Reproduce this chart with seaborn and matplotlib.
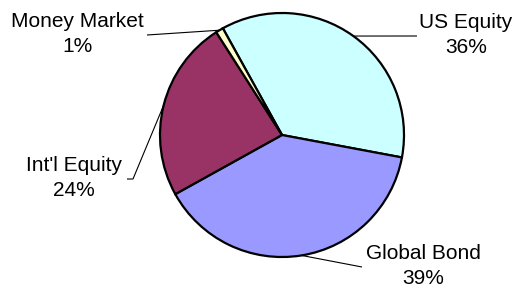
import matplotlib
matplotlib.use("Agg")
import matplotlib.pyplot as plt
import seaborn as sns
import numpy as np

categories = ["US Equity", "Global Bond", "Int'l Equity", "Money Market"]
values = [36, 39, 24, 1]
colors = ["#CCFFFF", "#9999FF", "#993366", "#FFFFCC"]

sns.set_theme(style="white")
plt.rcParams["font.family"] = ["Liberation Sans", "DejaVu Sans"]

W, H = 516, 288
fig = plt.figure(figsize=(W / 100, H / 100), dpi=100)
ax = fig.add_axes([0, 0, 1, 1])
ax.set_xlim(0, W)
ax.set_ylim(0, H)
ax.set_aspect("equal")
ax.axis("off")

cx, cy, R = 282, H - 135, 122
wedges, _ = ax.pie(values, colors=colors, startangle=119, counterclock=False,
                   center=(cx, cy), radius=R, frame=True,
                   wedgeprops=dict(edgecolor="black", linewidth=1.6))
ax.set_xlim(0, W)
ax.set_ylim(0, H)
ax.axis("off")

# label layout (image pixel coords, y down): text centre, leader path after the edge point
layout = {
    "US Equity": dict(text=(466, 35), path=[(417, 36)]),
    "Global Bond": dict(text=(423, 266), path=[(362, 267)]),
    "Int'l Equity": dict(text=(74, 178), path=[(133, 179), (127, 179)]),
    "Money Market": dict(text=(77, 34), path=[(147, 35)]),
}

for w, cat, v in zip(wedges, categories, values):
    mid = np.deg2rad((w.theta1 + w.theta2) / 2)
    ex, ey = cx + R * np.cos(mid), cy + R * np.sin(mid)
    lay = layout[cat]
    xs = [ex] + [p[0] for p in lay["path"]]
    ys = [ey] + [H - p[1] for p in lay["path"]]
    ax.plot(xs, ys, color="black", linewidth=0.8, solid_capstyle="butt")
    tx, ty = lay["text"]
    ax.text(tx, H - ty, f"{cat}\n{v}%", ha="center", va="center",
            fontsize=15, linespacing=1.45, color="black")

fig.savefig("out.png", dpi=100)
